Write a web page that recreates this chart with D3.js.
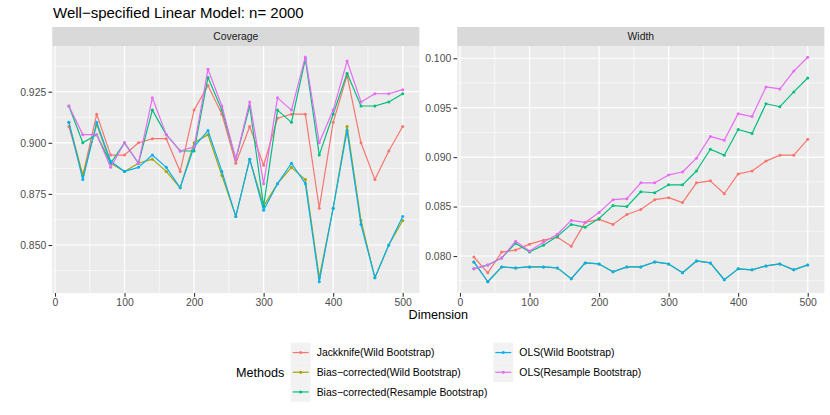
<!DOCTYPE html>
<html>
<head>
<meta charset="utf-8">
<script src="https://cdn.jsdelivr.net/npm/d3@7"></script>
<style>
  html, body { margin: 0; padding: 0; background: #ffffff; }
  svg { display: block; }
  text { font-family: "Liberation Sans", Arial, Helvetica, sans-serif; }
</style>
</head>
<body>
<svg id="chart" width="830" height="415"></svg>
<script>
// ---------------- data ----------------
const dims = [20,40,60,80,100,120,140,160,180,200,220,240,260,280,300,320,340,360,380,400,420,440,460,480,500];

const methods = [
  "Jackknife(Wild Bootstrap)",
  "Bias\u2212corrected(Wild Bootstrap)",
  "Bias\u2212corrected(Resample Bootstrap)",
  "OLS(Wild Bootstrap)",
  "OLS(Resample Bootstrap)"
];
const colors = ["#F8766D", "#A3A500", "#00BF7D", "#00B0F6", "#E76BF3"];

const facets = ["Coverage", "Width"];

// Coverage
const covJack    = [0.908,0.884,0.914,0.894,0.894,0.900,0.902,0.902,0.886,0.916,0.928,0.914,0.890,0.908,0.889,0.912,0.914,0.914,0.868,0.910,0.933,0.900,0.882,0.896,0.908];
const covBCWild  = [0.910,0.884,0.909,0.890,0.886,0.890,0.892,0.886,0.878,0.900,0.904,0.884,0.864,0.892,0.869,0.880,0.888,0.882,0.834,0.868,0.908,0.862,0.834,0.850,0.862];
const covBCRes   = [0.918,0.900,0.904,0.890,0.900,0.890,0.916,0.904,0.896,0.896,0.932,0.916,0.892,0.918,0.869,0.916,0.910,0.941,0.894,0.914,0.934,0.918,0.918,0.920,0.924];
const covOLSWild = [0.910,0.882,0.910,0.891,0.886,0.888,0.894,0.888,0.878,0.898,0.906,0.886,0.864,0.892,0.867,0.880,0.890,0.880,0.832,0.868,0.906,0.860,0.834,0.850,0.864];
const covOLSRes  = [0.918,0.904,0.904,0.888,0.900,0.890,0.922,0.904,0.896,0.898,0.936,0.918,0.892,0.920,0.880,0.922,0.916,0.942,0.900,0.916,0.940,0.920,0.924,0.924,0.926];

// Width
const wJack    = [0.0799,0.0783,0.0804,0.0806,0.0812,0.0816,0.0819,0.0810,0.0834,0.0837,0.0832,0.0842,0.0847,0.0857,0.0859,0.0854,0.0874,0.0876,0.0863,0.0883,0.0886,0.0896,0.0902,0.0902,0.0918];
const wBCWild  = [0.0794,0.0774,0.0789,0.0788,0.0789,0.0789,0.0788,0.0777,0.0793,0.0792,0.0784,0.0789,0.0789,0.0794,0.0792,0.0783,0.0795,0.0793,0.0776,0.0787,0.0786,0.0790,0.0792,0.0786,0.0791];
const wBCRes   = [0.0787,0.0791,0.0798,0.0813,0.0804,0.0811,0.0820,0.0832,0.0829,0.0838,0.0851,0.0850,0.0865,0.0864,0.0872,0.0872,0.0886,0.0908,0.0902,0.0928,0.0924,0.0954,0.0951,0.0966,0.0980];
const wOLSWild = [0.0794,0.0774,0.0789,0.0788,0.0789,0.0789,0.0788,0.0777,0.0793,0.0792,0.0784,0.0789,0.0789,0.0794,0.0792,0.0783,0.0795,0.0793,0.0776,0.0787,0.0786,0.0790,0.0792,0.0786,0.0791];
const wOLSRes  = [0.0787,0.0791,0.0798,0.0815,0.0805,0.0814,0.0822,0.0836,0.0834,0.0844,0.0857,0.0858,0.0874,0.0874,0.0882,0.0885,0.0899,0.0921,0.0917,0.0944,0.0941,0.0971,0.0969,0.0987,0.1001];

const xTicks = [0,100,200,300,400,500];
const covTicks = [0.850,0.875,0.900,0.925];
const widthTicks = [0.080,0.085,0.090,0.095,0.100];

const title = "Well\u2212specified Linear Model: n= 2000";
const xTitle = "Dimension";
const legendTitle = "Methods";

// ---------------- build ----------------
const seriesByFacet = {
  Coverage: [covJack, covBCWild, covBCRes, covOLSWild, covOLSRes],
  Width: [wJack, wBCWild, wBCRes, wOLSWild, wOLSRes]
};

const svg = d3.select("#chart");
const panelTop = 46, panelBottom = 293, stripTop = 27;
const panels = [
  { name: "Coverage", x0: 52.2, x1: 419.4, domain: [0.82652, 0.94736], ticks: covTicks },
  { name: "Width",    x0: 457.2, x1: 824.4, domain: [0.07626, 0.10124], ticks: widthTicks }
];

const fmt = d3.format(".3f");
const smallFont = "10.4px";

panels.forEach((p, pi) => {
  const x = d3.scaleLinear().domain([-4, 524]).range([p.x0, p.x1]);
  const y = d3.scaleLinear().domain(p.domain).range([panelBottom, panelTop]);
  const g = svg.append("g");

  g.append("rect").attr("x", p.x0).attr("y", panelTop)
    .attr("width", p.x1 - p.x0).attr("height", panelBottom - panelTop)
    .attr("fill", "#EBEBEB");

  const xMinor = xTicks.slice(0, -1).map((t, i) => (t + xTicks[i + 1]) / 2);
  const step = p.ticks[1] - p.ticks[0];
  const yMinor = [];
  for (let v = p.ticks[0] - step / 2; v <= p.domain[1]; v += step) {
    if (v >= p.domain[0]) yMinor.push(v);
  }
  g.selectAll(".xminor").data(xMinor).enter().append("line")
    .attr("x1", d => x(d)).attr("x2", d => x(d))
    .attr("y1", panelTop).attr("y2", panelBottom)
    .attr("stroke", "#FFFFFF").attr("stroke-width", 0.6);
  g.selectAll(".yminor").data(yMinor).enter().append("line")
    .attr("x1", p.x0).attr("x2", p.x1)
    .attr("y1", d => y(d)).attr("y2", d => y(d))
    .attr("stroke", "#FFFFFF").attr("stroke-width", 0.6);
  g.selectAll(".xmajor").data(xTicks).enter().append("line")
    .attr("x1", d => x(d)).attr("x2", d => x(d))
    .attr("y1", panelTop).attr("y2", panelBottom)
    .attr("stroke", "#FFFFFF").attr("stroke-width", 1.2);
  g.selectAll(".ymajor").data(p.ticks).enter().append("line")
    .attr("x1", p.x0).attr("x2", p.x1)
    .attr("y1", d => y(d)).attr("y2", d => y(d))
    .attr("stroke", "#FFFFFF").attr("stroke-width", 1.2);

  g.append("rect").attr("x", p.x0).attr("y", stripTop)
    .attr("width", p.x1 - p.x0).attr("height", panelTop - stripTop)
    .attr("fill", "#D9D9D9");
  g.append("text").attr("x", (p.x0 + p.x1) / 2).attr("y", 40.3)
    .attr("text-anchor", "middle").attr("font-size", smallFont)
    .attr("fill", "#1A1A1A").text(p.name);

  const xAxis = d3.axisBottom(x).tickValues(xTicks).tickSize(3.7).tickPadding(2.3)
    .tickFormat(d3.format("d"));
  const gx = g.append("g").attr("transform", `translate(0,${panelBottom})`).call(xAxis);
  const yAxis = d3.axisLeft(y).tickValues(p.ticks).tickSize(3.7).tickPadding(2.3)
    .tickFormat(fmt);
  const gy = g.append("g").attr("transform", `translate(${p.x0},0)`).call(yAxis);
  [gx, gy].forEach(ax => {
    ax.select(".domain").remove();
    ax.selectAll(".tick line").attr("stroke", "#333333").attr("stroke-width", 1.1);
    ax.selectAll(".tick text").attr("fill", "#4D4D4D").attr("font-size", smallFont)
      .attr("font-family", "Liberation Sans, Arial, Helvetica, sans-serif");
  });

  const clipId = "clip" + pi;
  svg.append("clipPath").attr("id", clipId).append("rect")
    .attr("x", p.x0).attr("y", panelTop).attr("width", p.x1 - p.x0).attr("height", panelBottom - panelTop);
  const sg = g.append("g").attr("clip-path", `url(#${clipId})`);
  const line = d3.line().x(d => x(d[0])).y(d => y(d[1]));
  seriesByFacet[p.name].forEach((vals, mi) => {
    const pts = dims.map((d, i) => [d, vals[i]]);
    sg.append("path").datum(pts).attr("d", line)
      .attr("fill", "none").attr("stroke", colors[mi]).attr("stroke-width", 1.2)
      .attr("stroke-linejoin", "round");
    sg.selectAll(".pt" + mi).data(pts).enter().append("circle")
      .attr("cx", d => x(d[0])).attr("cy", d => y(d[1])).attr("r", 1.5)
      .attr("fill", colors[mi]);
  });
});

svg.append("text").attr("x", 53).attr("y", 17.5).attr("font-size", "15px")
  .attr("fill", "#000000").text(title);

svg.append("text").attr("x", 438.3).attr("y", 319).attr("text-anchor", "middle")
  .attr("font-size", "12.6px").attr("fill", "#000000").text(xTitle);

svg.append("text").attr("x", 236).attr("y", 377).attr("font-size", "12.6px")
  .attr("fill", "#000000").text(legendTitle);

const legendCols = [[0, 1, 2], [3, 4]];
const colX = [290.7, 493.3];
const keyW = 20, keyH = 19.7, keyTop = 342.7;
legendCols.forEach((col, ci) => {
  col.forEach((mi, ri) => {
    const kx = colX[ci], ky = keyTop + ri * keyH;
    svg.append("rect").attr("x", kx).attr("y", ky).attr("width", keyW).attr("height", keyH)
      .attr("fill", "#F2F2F2");
    svg.append("line").attr("x1", kx + 2).attr("x2", kx + keyW - 2)
      .attr("y1", ky + keyH / 2).attr("y2", ky + keyH / 2)
      .attr("stroke", colors[mi]).attr("stroke-width", 1.2);
    svg.append("circle").attr("cx", kx + keyW / 2).attr("cy", ky + keyH / 2).attr("r", 1.5)
      .attr("fill", colors[mi]);
    svg.append("text").attr("x", kx + keyW + 6).attr("y", ky + keyH / 2 + 3.7)
      .attr("font-size", smallFont).attr("fill", "#000000").text(methods[mi]);
  });
});
</script>
</body>
</html>
